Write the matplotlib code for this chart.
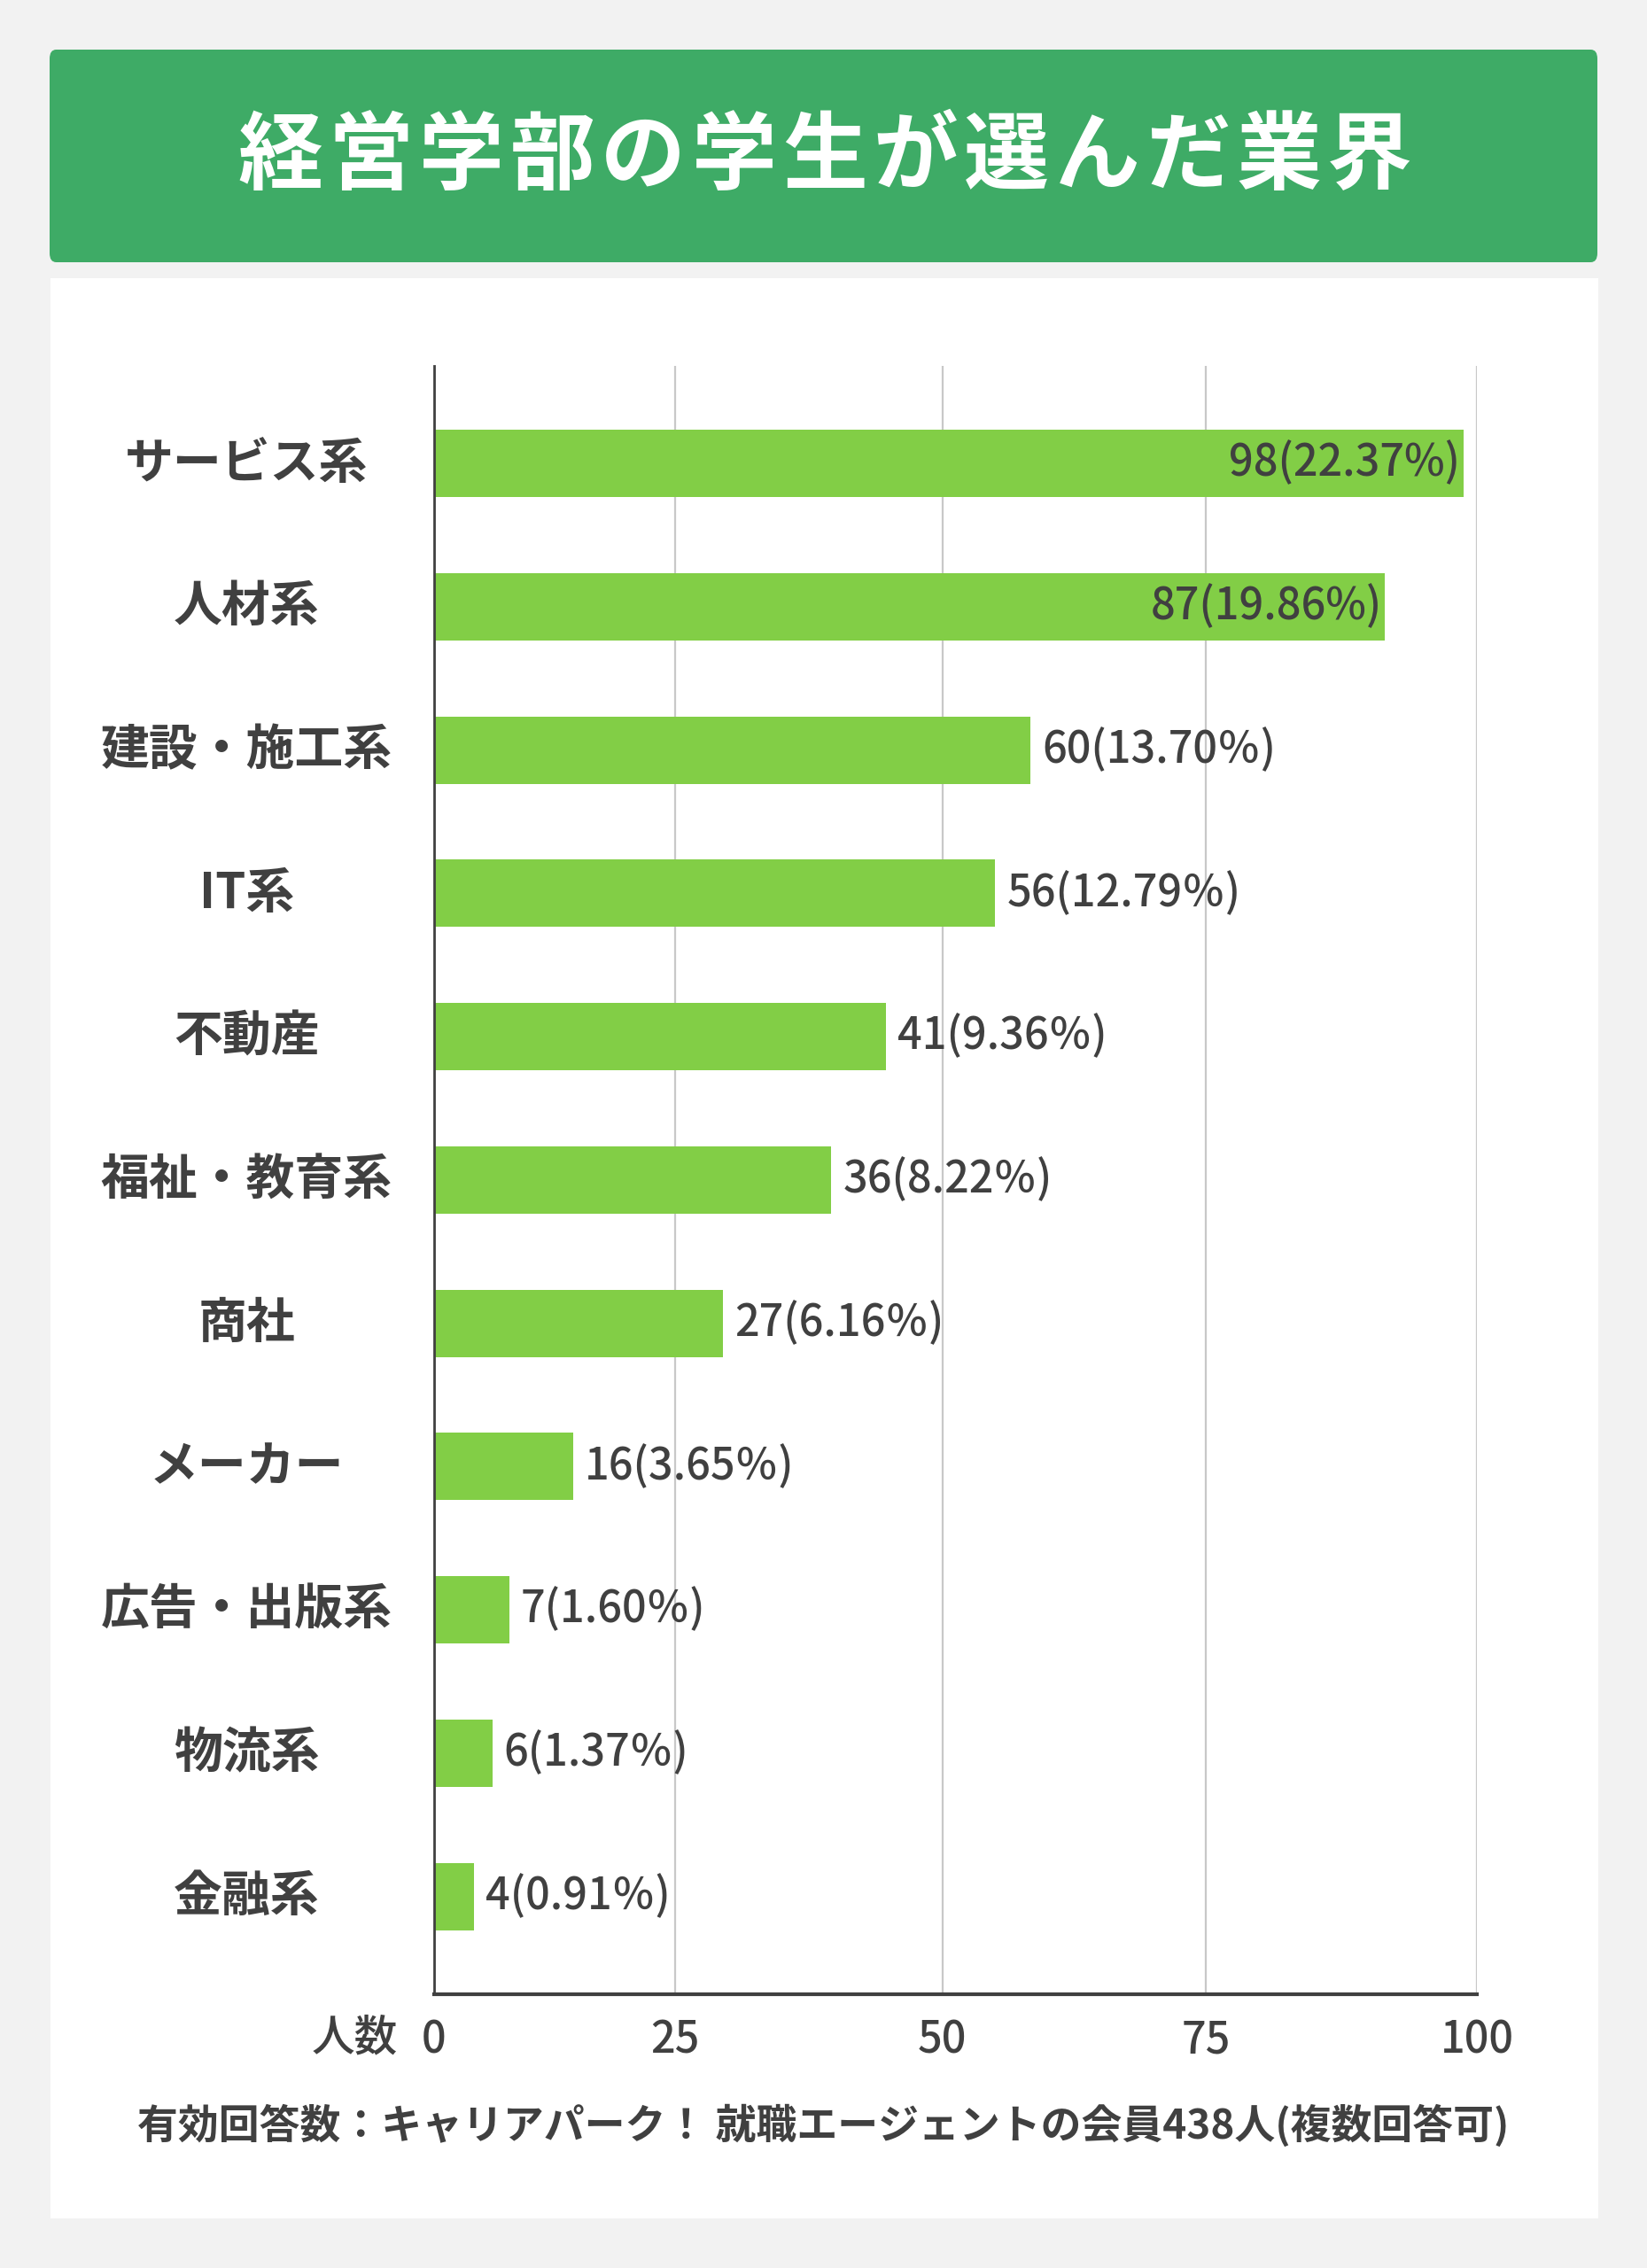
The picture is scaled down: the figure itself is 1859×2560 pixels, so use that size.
import matplotlib
matplotlib.use("Agg")
import matplotlib.pyplot as plt
from matplotlib.patches import FancyBboxPatch, Rectangle

plt.rcParams['font.family'] = ['Noto Sans CJK JP', 'DejaVu Sans']

# ---- data ----
title = "経営学部の学生が選んだ業界"
categories = ["サービス系", "人材系", "建設・施工系", "IT系", "不動産", "福祉・教育系",
              "商社", "メーカー", "広告・出版系", "物流系", "金融系"]
counts = [98, 87, 60, 56, 41, 36, 27, 16, 7, 6, 4]
percents = ["22.37", "19.86", "13.70", "12.79", "9.36", "8.22", "6.16", "3.65", "1.60", "1.37", "0.91"]
# bar lengths as drawn in the picture
bar_lengths = [98.7, 91.2, 57.2, 53.8, 43.3, 38.1, 27.7, 13.3, 7.2, 5.6, 3.8]
# gridline / tick positions as drawn in the picture, with their labels
tick_positions = [0, 23.1, 48.75, 74.0, 100]
tick_labels = ["0", "25", "50", "75", "100"]
xlabel = "人数"
footnote = "有効回答数：キャリアパーク！ 就職エージェントの会員438人(複数回答可)"

W, H = 1859, 2560
DPI = 100
fig = plt.figure(figsize=(W / DPI, H / DPI), dpi=DPI, facecolor="#F2F2F2")

TEXT = "#404040"
GREEN_HEAD = "#3EAB66"
GREEN_BAR = "#82CE46"

def fx(px):
    return px / W

def fy(py):
    return 1 - py / H

# header box
fig.patches.append(FancyBboxPatch((fx(56), fy(296)), fx(1803) - fx(56), fy(56) - fy(296),
                                  boxstyle="round,pad=0,rounding_size=0.004",
                                  transform=fig.transFigure, facecolor=GREEN_HEAD,
                                  edgecolor="none", zorder=-10))
# white panel
fig.patches.append(Rectangle((fx(57), fy(2504)), fx(1804) - fx(57), fy(314) - fy(2504),
                             transform=fig.transFigure, facecolor="white",
                             edgecolor="none", zorder=-10))

# title with slight letter spacing
pitch = 102.5
cx = 931
n = len(title)
for i, ch in enumerate(title):
    fig.text(fx(cx + (i - (n - 1) / 2) * pitch), fy(178), ch, ha="center", va="center",
             fontsize=69, fontweight="bold", color="white")

# axes
ax = fig.add_axes([fx(490), fy(2251), fx(1667) - fx(490), fy(412.6) - fy(2251)])
ax.set_zorder(1)
ax.set_facecolor("none")
y = list(range(len(categories)))
ax.barh(y, bar_lengths, height=0.47, color=GREEN_BAR, zorder=3)
ax.set_xlim(0, 100)
ax.set_ylim(len(categories) - 1 + 0.683, -0.683)

for v in tick_positions[1:]:
    ax.axvline(v, color="#C8C8C8", lw=1.6, zorder=1)

for s in ["top", "right"]:
    ax.spines[s].set_visible(False)
ax.spines["left"].set_color(TEXT)
ax.spines["left"].set_linewidth(2.0)
ax.spines["bottom"].set_color(TEXT)
ax.spines["bottom"].set_linewidth(3.0)
ax.spines["left"].set_zorder(4)
ax.spines["bottom"].set_zorder(4)

ax.set_yticks([])
ax.set_xticks(tick_positions)
ax.set_xticklabels(tick_labels, fontsize=35, color=TEXT, fontweight="medium")
ax.tick_params(axis="x", length=0, pad=20)

# category labels
for yi, cat in zip(y, categories):
    ax.text(-18.0, yi, cat, ha="center", va="center", fontsize=39.5,
            fontweight="bold", color=TEXT, clip_on=False)

# value labels
for yi, L, c, p in zip(y, bar_lengths, counts, percents):
    if L > 80:
        ax.text(L - 0.3, yi, f"{c}({p}%)", ha="right", va="center", fontsize=35,
                color=TEXT, fontweight="medium", zorder=5)
    else:
        ax.text(L + 1.1, yi, f"{c}({p}％)", ha="left", va="center", fontsize=35,
                color=TEXT, fontweight="medium", zorder=5)

fig.text(fx(400), fy(2300), xlabel, ha="center", va="center", fontsize=35,
         color=TEXT, fontweight="medium")
fig.text(fx(929), fy(2400), footnote, ha="center", va="center", fontsize=33,
         color=TEXT, fontweight="bold")

fig.savefig("out.png", dpi=DPI, facecolor=fig.get_facecolor())
